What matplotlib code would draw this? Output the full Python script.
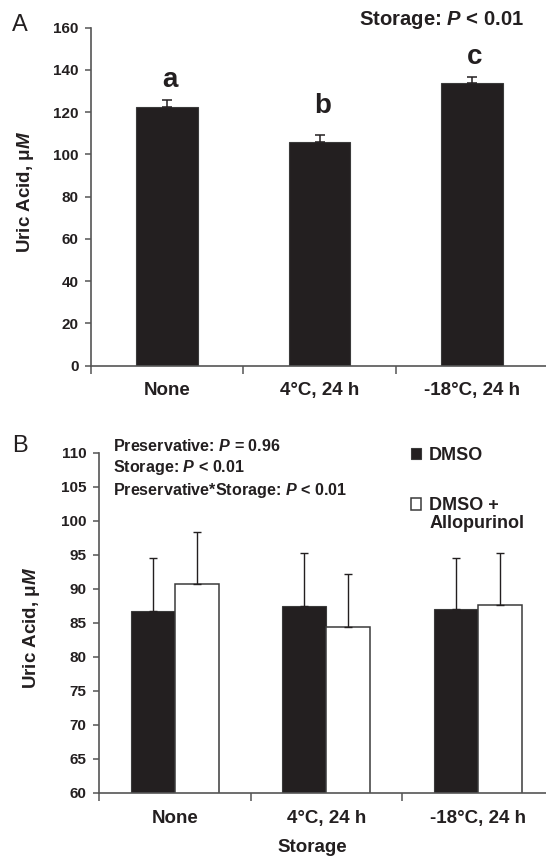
import matplotlib
matplotlib.use("Agg")
import matplotlib.pyplot as plt
import numpy as np

plt.rcParams['font.family'] = ['Liberation Sans', 'DejaVu Sans']
plt.rcParams['font.weight'] = 'bold'
plt.rcParams['mathtext.fontset'] = 'custom'
plt.rcParams['mathtext.it'] = 'Liberation Sans:italic:bold'
plt.rcParams['mathtext.rm'] = 'Liberation Sans:bold'
plt.rcParams['mathtext.bf'] = 'Liberation Sans:bold'

# ---------------- data ----------------
categories = ["None", "4°C, 24 h", "-18°C, 24 h"]

# Panel A
a_means = [122.6, 106.0, 133.8]
a_sem = [3.2, 3.0, 3.0]
a_letters = ["a", "b", "c"]
a_letter_y = [131.8, 119.6, 142.8]
a_yticks = [0, 20, 40, 60, 80, 100, 120, 140, 160]

# Panel B
series_names = ["DMSO", "DMSO +"]
b_dmso = [86.8, 87.5, 87.0]
b_dmso_sd = [7.7, 7.8, 7.6]
b_allo = [90.7, 84.4, 87.6]
b_allo_sd = [7.6, 7.8, 7.6]
b_yticks = [60, 65, 70, 75, 80, 85, 90, 95, 100, 105, 110]

INK = '#231f20'
SPINE = '#555555'
W, H = 546, 858

fig = plt.figure(figsize=(W / 100, H / 100), dpi=100)


def fx(x):
    return x / W


def fy(y):
    return 1 - y / H


def style_axes(ax):
    for s in ['top', 'right']:
        ax.spines[s].set_visible(False)
    for s in ['left', 'bottom']:
        ax.spines[s].set_color(SPINE)
        ax.spines[s].set_linewidth(1.2)
    ax.tick_params(axis='y', which='major', direction='out', length=4, width=1.1,
                   color=SPINE, labelsize=11, labelcolor=INK, pad=5)
    ax.set_xticks([0, 1, 2, 3])
    ax.set_xticklabels([])
    ax.tick_params(axis='x', which='major', direction='out', length=6, width=1.1, color=SPINE)
    ax.set_xticks([0.5, 1.5, 2.5], minor=True)
    ax.set_xticklabels(categories, minor=True)
    ax.tick_params(axis='x', which='minor', length=0, labelsize=13.5, labelcolor=INK, pad=12)
    ax.set_xlim(0, 3)
    for lab in ax.get_yticklabels() + ax.get_xticklabels(minor=True):
        lab.set_fontweight('bold')


# ---------------- Panel A ----------------
axA = fig.add_axes([fx(91), fy(365.7), (548 - 91) / W, (365.7 - 27.7) / H])
xA = np.arange(len(categories)) + 0.5
axA.bar(xA, a_means, width=0.405, color=INK, edgecolor='#3a3a3a', linewidth=0.8, zorder=2)
axA.errorbar(xA, a_means, yerr=[np.zeros(3), a_sem], fmt='none', ecolor=INK,
             elinewidth=1.1, capsize=3.4, capthick=1.1, zorder=3)
axA.set_ylim(0, 160)
axA.set_yticks(a_yticks)
style_axes(axA)
for x, y, t in zip(xA, a_letter_y, a_letters):
    axA.text(x + 0.02, y, t, ha='center', va='baseline', fontsize=20, fontweight='bold', color=INK)
axA.set_ylabel("Uric Acid, μ$M$", fontsize=13.5, fontweight='bold', color=INK, va='center')
axA.yaxis.set_label_coords((25.5 - 91) / (548 - 91), (365.7 - 191.7) / (365.7 - 27.7))
fig.text(fx(359), fy(20), "Storage: $P$ < 0.01", ha='left', va='center', fontsize=14.6,
         fontweight='bold', color=INK)
fig.text(fx(20), fy(25), "A", ha='center', va='center', fontsize=17, fontweight='normal', color=INK)

# ---------------- Panel B ----------------
axB = fig.add_axes([fx(99), fy(793), (553.5 - 99) / W, (793 - 452.7) / H])
xB = np.arange(len(categories)) + 0.5
bw = 0.29
b1 = axB.bar(xB - bw / 2, b_dmso, width=bw, color=INK, edgecolor='#3a3a3a', linewidth=0.8, zorder=2,
             label=series_names[0])
b2 = axB.bar(xB + bw / 2, b_allo, width=bw, color='white', edgecolor='#3a3a3a', linewidth=1.1, zorder=2,
             label=series_names[1])
axB.errorbar(xB - bw / 2, b_dmso, yerr=[np.zeros(3), b_dmso_sd], fmt='none', ecolor=INK,
             elinewidth=1.0, capsize=3.0, capthick=1.0, zorder=3)
axB.errorbar(xB + bw / 2, b_allo, yerr=[np.zeros(3), b_allo_sd], fmt='none', ecolor=INK,
             elinewidth=1.0, capsize=3.0, capthick=1.0, zorder=3)
axB.set_ylim(60, 110)
axB.set_yticks(b_yticks)
style_axes(axB)
axB.set_ylabel("Uric Acid, μ$M$", fontsize=13.5, fontweight='bold', color=INK, va='center')
axB.yaxis.set_label_coords((31 - 99) / (553.5 - 99), (793 - 628) / (793 - 452.7))
axB.set_xlabel("Storage", fontsize=13.5, fontweight='bold', color=INK, va='center')
axB.xaxis.set_label_coords((312.7 - 99) / (553.5 - 99), -(847.3 - 793) / (793 - 452.7))

stats = ["Preservative: $P$ = 0.96", "Storage: $P$ < 0.01", "Preservative*Storage: $P$ < 0.01"]
for t, y in zip(stats, [446, 467.7, 490]):
    fig.text(fx(112.7), fy(y), t, ha='left', va='center', fontsize=11.6, fontweight='bold', color=INK)

leg = axB.legend(handles=[b1, b2], labels=series_names, loc='upper left',
                 bbox_to_anchor=(fx(411), fy(447)), bbox_transform=fig.transFigure,
                 frameon=False, fontsize=13, handlelength=0.58, handleheight=0.58,
                 handletextpad=0.42, labelspacing=1.85, borderpad=0, borderaxespad=0)
for txt in leg.get_texts():
    txt.set_color(INK)
fig.text(fx(430), fy(523.3), "Allopurinol", ha='left', va='center', fontsize=13,
         fontweight='bold', color=INK)
fig.text(fx(20), fy(446), "B", ha='center', va='center', fontsize=17, fontweight='normal', color=INK)

fig.savefig("out.png", dpi=100)
